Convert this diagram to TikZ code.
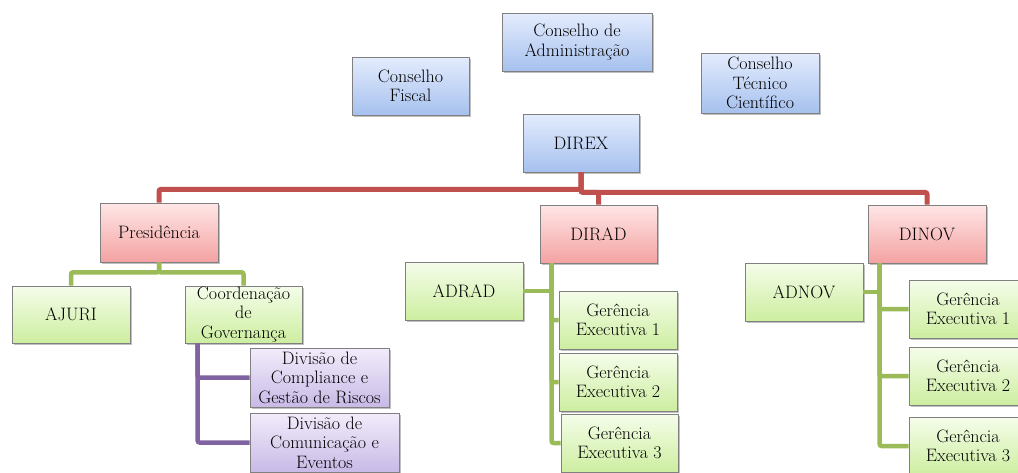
\documentclass[tikz,border=0pt]{standalone}
\usetikzlibrary{shadows,calc}
\definecolor{blueT}{HTML}{E4ECFD}
\definecolor{blueB}{HTML}{A6C1EE}
\definecolor{redT}{HTML}{FFE6E6}
\definecolor{redB}{HTML}{F4A2A2}
\definecolor{greenT}{HTML}{F5FDEA}
\definecolor{greenB}{HTML}{CDEEA0}
\definecolor{purpT}{HTML}{F2ECFB}
\definecolor{purpB}{HTML}{C8BAE6}
\definecolor{redL}{HTML}{C0504D}
\definecolor{greenL}{HTML}{9BBB59}
\definecolor{purpL}{HTML}{8064A2}
\tikzset{
  box/.style={rectangle, draw=black!50, line width=0.7pt, align=center, inner sep=0pt,
    font=\fontsize{18}{19.5}\selectfont, text=black,
    drop shadow={shadow xshift=1.8pt, shadow yshift=-2.2pt, fill=black!45, opacity=0.55}},
  bluebox/.style={box, top color=blueT, bottom color=blueB},
  redbox/.style={box, top color=redT, bottom color=redB},
  greenbox/.style={box, top color=greenT, bottom color=greenB},
  purpbox/.style={box, top color=purpT, bottom color=purpB},
  redline/.style={draw=redL, line width=5pt, rounded corners=2pt},
  greenline/.style={draw=greenL, line width=4.5pt, rounded corners=2pt},
  purpline/.style={draw=purpL, line width=4.5pt, rounded corners=2pt},
}
\begin{document}
\begin{tikzpicture}[x=1pt,y=-1pt]
\useasboundingbox (0,0) rectangle (1018,472);
\clip (0,0) rectangle (1018,472);
% top level
\node[bluebox, minimum width=150pt, minimum height=58pt] (cadm) at (577,42) {Conselho de\\Administração};
\node[bluebox, minimum width=117pt, minimum height=58pt] (cfis) at (410.5,86) {Conselho\\Fiscal};
\node[bluebox, minimum width=118pt, minimum height=60pt] (ctec) at (760,83) {Conselho\\Técnico\\Científico};
\node[bluebox, minimum width=116pt, minimum height=58pt] (direx) at (581,143) {DIREX};
% directors
\node[redbox, minimum width=118pt, minimum height=59pt] (pres) at (159,232.5) {Presidência};
\node[redbox, minimum width=117pt, minimum height=58pt] (dirad) at (598.5,234) {DIRAD};
\node[redbox, minimum width=118pt, minimum height=58pt] (dinov) at (927,234) {DINOV};
% presidencia children
\node[greenbox, minimum width=118pt, minimum height=57pt] (ajuri) at (71,314.5) {AJURI};
\node[greenbox, minimum width=117pt, minimum height=57pt] (coord) at (243.5,314.5) {Coordenação\\de\\Governança};
\node[purpbox, minimum width=139pt, minimum height=59pt] (div1) at (319.5,377.5) {Divisão de\\Compliance e\\Gestão de Riscos};
\node[purpbox, minimum width=149pt, minimum height=59pt] (div2) at (324.5,442.5) {Divisão de\\Comunicação e\\Eventos};
% dirad children
\node[greenbox, minimum width=118pt, minimum height=58pt] (adrad) at (464,291) {ADRAD};
\node[greenbox, minimum width=118pt, minimum height=58pt] (ge1a) at (618,320) {Gerência\\Executiva 1};
\node[greenbox, minimum width=118pt, minimum height=58pt] (ge2a) at (618,382) {Gerência\\Executiva 2};
\node[greenbox, minimum width=117pt, minimum height=58pt] (ge3a) at (619.5,443) {Gerência\\Executiva 3};
% dinov children
\node[greenbox, minimum width=118pt, minimum height=58pt] (adnov) at (804,292) {ADNOV};
\node[greenbox, minimum width=118pt, minimum height=58pt] (ge1b) at (968,309) {Gerência\\Executiva 1};
\node[greenbox, minimum width=118pt, minimum height=58pt] (ge2b) at (968,376) {Gerência\\Executiva 2};
\node[greenbox, minimum width=118pt, minimum height=58pt] (ge3b) at (968,446) {Gerência\\Executiva 3};
% connectors
\draw[redline] (direx.south) -- ++(0,17) -| (pres.north);
\draw[redline] (direx.south) -- ++(0,20) -| (dirad.north);
\draw[redline] (direx.south) -- ++(0,20) -| (dinov.north);
\draw[greenline] (pres.south) -- ++(0,10) -| (ajuri.north);
\draw[greenline] (pres.south) -- ++(0,10) -| (coord.north);
\coordinate (pv) at ($(coord.south west)+(13,0)$);
\draw[purpline] (pv) |- (div1.west);
\draw[purpline] (pv) |- (div2.west);
\coordinate (av) at ($(dirad.south west)+(12,0)$);
\draw[greenline] (av) |- (ge3a.west);
\draw[greenline] (av) |- (ge1a.west);
\draw[greenline] (av) |- (ge2a.west);
\draw[greenline] (adrad.east) -- (adrad.east -| av);
\coordinate (nv) at ($(dinov.south west)+(12,0)$);
\draw[greenline] (nv) |- (ge3b.west);
\draw[greenline] (nv) |- (ge1b.west);
\draw[greenline] (nv) |- (ge2b.west);
\draw[greenline] (adnov.east) -- (adnov.east -| nv);
\end{tikzpicture}
\end{document}
